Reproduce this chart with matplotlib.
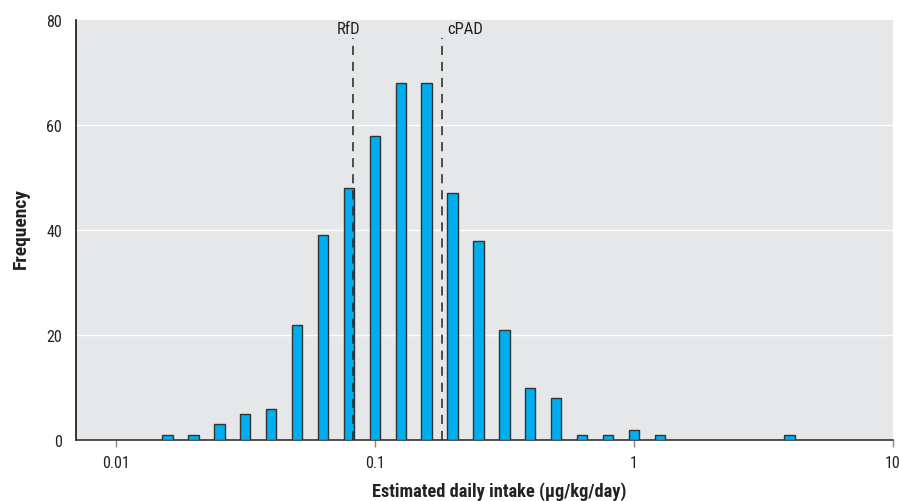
import numpy as np
import matplotlib
matplotlib.use("Agg")
import matplotlib.pyplot as plt
from matplotlib import font_manager

# ---- data ----
bin_log_centers = [-1.8, -1.7, -1.6, -1.5, -1.4, -1.3, -1.2, -1.1, -1.0, -0.9, -0.8,
                   -0.7, -0.6, -0.5, -0.4, -0.3, -0.2, -0.1, 0.0, 0.1, 0.6]
counts = [1, 1, 3, 5, 6, 22, 39, 48, 58, 68, 68, 47, 38, 21, 10, 8, 1, 1, 2, 1, 1]
ref_values = [0.082, 0.182]
ref_labels = ["RfD", "cPAD"]
xticks = [0.01, 0.1, 1, 10]
xtick_labels = ["0.01", "0.1", "1", "10"]
yticks = [0, 20, 40, 60, 80]

names = {f.name for f in font_manager.fontManager.ttflist}
fam = [n for n in ["Roboto Condensed", "Liberation Sans Narrow", "Liberation Sans"] if n in names] + ["DejaVu Sans"]
plt.rcParams['font.family'] = fam

W, H = 899, 502
fig = plt.figure(figsize=(W / 100, H / 100), dpi=100)
ax = fig.add_axes([76 / W, 1 - 441 / H, (893 - 76) / W, (441 - 21) / H])
ax.set_facecolor("#E6E7E9")

half = 0.02
c = np.array(bin_log_centers)
lefts = 10 ** (c - half)
widths = 10 ** (c + half) - lefts
ax.bar(lefts, counts, width=widths, align='edge', color="#00AEEF",
       edgecolor="#333333", linewidth=1.0, zorder=3)

ax.set_xscale('log')
ax.set_xlim(10 ** -2.1535, 10)
ax.set_ylim(0, 80)

ax.set_yticks(yticks)
ax.set_yticklabels([str(v) for v in yticks], fontsize=11.5, color="#222222")
ax.tick_params(axis='y', length=0, pad=10)
ax.set_xticks(xticks)
ax.set_xticklabels(xtick_labels, fontsize=11.5, color="#222222")
ax.xaxis.set_minor_locator(matplotlib.ticker.NullLocator())
ax.tick_params(axis='x', length=5, width=1, color="#888888", pad=6)

for y in yticks[1:-1]:
    ax.axhline(y, color="white", linewidth=1, zorder=1)

for sp in ["top", "right"]:
    ax.spines[sp].set_visible(False)
ax.spines["left"].set_color("#111111")
ax.spines["left"].set_linewidth(1.2)
ax.spines["bottom"].set_color("#333333")
ax.spines["bottom"].set_linewidth(1.2)

for v, lab, ha, dx in zip(ref_values, ref_labels, ["center", "left"], [-3, 3.5]):
    ax.plot([v, v], [0, 76.6], color="#222222", linewidth=1.1,
            linestyle=(0, (6, 4.5)), zorder=4)
    ax.annotate(lab, xy=(v, 78.3), xytext=(dx, 0), textcoords='offset points',
                ha=ha, va='center', fontsize=12, color="#222222")

fig.text(499.5 / W, 1 - 497 / H, "Estimated daily intake (µg/kg/day)", fontsize=13.2,
         fontweight='bold', color="#222222", ha='center', va='baseline')
fig.text(21 / W, 1 - 228.5 / H, "Frequency", fontsize=14, fontweight='bold',
         color="#222222", ha='center', va='center', rotation=90)

fig.savefig("out.png", dpi=100)
